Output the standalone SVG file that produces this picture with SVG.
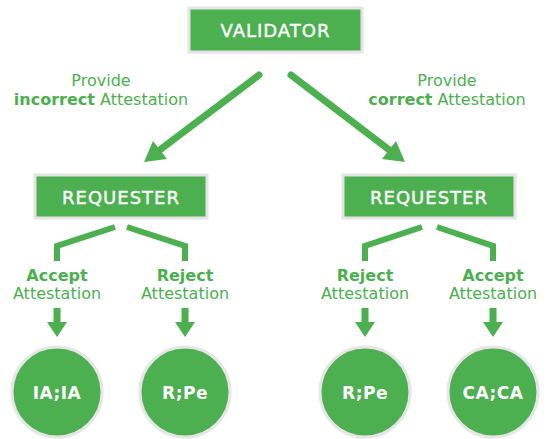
<svg xmlns="http://www.w3.org/2000/svg" width="548" height="439" viewBox="0 0 548 439">
  <style>
    .box { fill: #4caf50; stroke: #e4e4e4; stroke-width: 3; }
    .circ { fill: #4caf50; stroke: #e6e6e6; stroke-width: 3; }
    .title { font-family: "DejaVu Sans", sans-serif; font-size: 18px; fill: #ffffff; stroke: #ffffff; stroke-width: 0.4px; text-anchor: middle; letter-spacing: 1px; }
    .ctext { font-family: "DejaVu Sans", sans-serif; font-size: 17px; font-weight: bold; fill: #ffffff; text-anchor: middle; letter-spacing: 0.5px; }
    .lbl { font-family: "DejaVu Sans", sans-serif; font-size: 16px; fill: #4caf50; text-anchor: middle; }
    .b { font-weight: bold; }
    .line { fill: none; stroke: #4caf50; stroke-width: 7; stroke-linecap: round; }
    .branch { fill: none; stroke: #4caf50; stroke-width: 6; stroke-linejoin: miter; }
    .head { fill: #4caf50; }
  </style>

  <g id="validator">
    <rect class="box" x="189" y="8" width="173" height="44"/>
    <text class="title" x="275.5" y="37">VALIDATOR</text>
  </g>

  <g id="requester-left">
    <rect class="box" x="35" y="175" width="172" height="43"/>
    <text class="title" x="121" y="204">REQUESTER</text>
  </g>

  <g id="requester-right">
    <rect class="box" x="343" y="175" width="172" height="43"/>
    <text class="title" x="429" y="204">REQUESTER</text>
  </g>

  <g id="outcome-ia-ia">
    <circle class="circ" cx="57" cy="392" r="45"/>
    <text class="ctext" x="57" y="399">IA;IA</text>
  </g>
  <g id="outcome-r-pe-left">
    <circle class="circ" cx="185" cy="392" r="45"/>
    <text class="ctext" x="185" y="399">R;Pe</text>
  </g>
  <g id="outcome-r-pe-right">
    <circle class="circ" cx="365" cy="392" r="45"/>
    <text class="ctext" x="365" y="399">R;Pe</text>
  </g>
  <g id="outcome-ca-ca">
    <circle class="circ" cx="493" cy="392" r="45"/>
    <text class="ctext" x="493" y="399">CA;CA</text>
  </g>

  <g id="connectors">
    <line class="line" x1="259" y1="75" x2="157" y2="152"/>
    <polygon class="head" points="144,162 167,159 153,141"/>
    <line class="line" x1="291" y1="75" x2="392" y2="152"/>
    <polygon class="head" points="405,162 382,159 396,141"/>

    <path class="branch" d="M115,227 L57,246 L57,261"/>
    <path class="branch" d="M127,227 L185,246 L185,261"/>
    <path class="branch" d="M422,227 L365,246 L365,261"/>
    <path class="branch" d="M437,227 L493,246 L493,261"/>

    <rect class="head" x="53.5" y="308" width="7" height="16"/>
    <polygon class="head" points="47,322 67,322 57,337"/>
    <rect class="head" x="181.5" y="308" width="7" height="16"/>
    <polygon class="head" points="175,322 195,322 185,337"/>
    <rect class="head" x="361.5" y="308" width="7" height="16"/>
    <polygon class="head" points="355,322 375,322 365,337"/>
    <rect class="head" x="489.5" y="308" width="7" height="16"/>
    <polygon class="head" points="483,322 503,322 493,337"/>
  </g>

  <g id="labels">
    <text class="lbl" x="101" y="86">Provide</text>
    <text class="lbl" x="101" y="105"><tspan class="b">incorrect</tspan> Attestation</text>
    <text class="lbl" x="447" y="86">Provide</text>
    <text class="lbl" x="447" y="105"><tspan class="b">correct</tspan> Attestation</text>

    <text class="lbl b" x="57" y="281">Accept</text>
    <text class="lbl" x="57" y="299">Attestation</text>
    <text class="lbl b" x="185" y="281">Reject</text>
    <text class="lbl" x="185" y="299">Attestation</text>
    <text class="lbl b" x="365" y="281">Reject</text>
    <text class="lbl" x="365" y="299">Attestation</text>
    <text class="lbl b" x="493" y="281">Accept</text>
    <text class="lbl" x="493" y="299">Attestation</text>
  </g>
</svg>
